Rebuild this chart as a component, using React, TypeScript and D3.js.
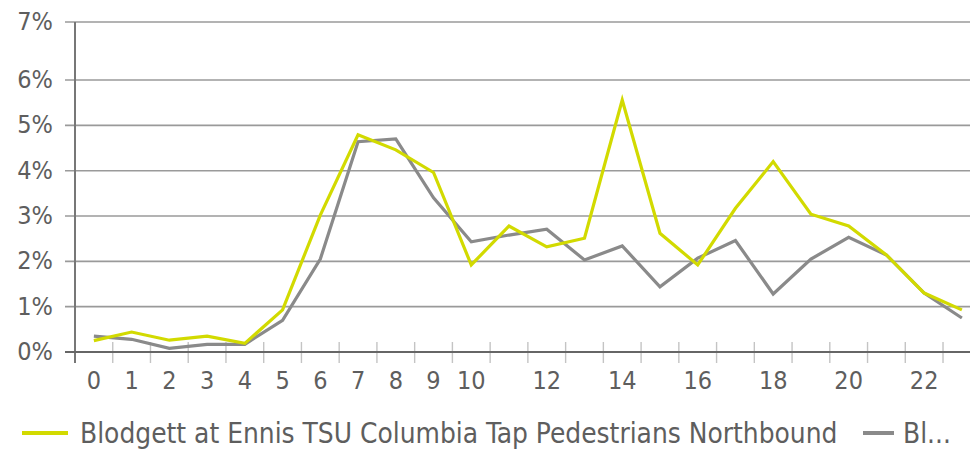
import React, { useEffect, useRef } from 'react';
import * as d3 from 'd3';

const hours = d3.range(0, 24);
const hourLabels = ['0', '1', '2', '3', '4', '5', '6', '7', '8', '9', '10', '', '12', '', '14', '', '16', '', '18', '', '20', '', '22', ''];
const northbound = [0.25, 0.44, 0.26, 0.35, 0.19, 0.93, 3.02, 4.79, 4.46, 3.96, 1.92, 2.78, 2.32, 2.51, 5.56, 2.62, 1.92, 3.17, 4.2, 3.04, 2.78, 2.14, 1.3, 0.93];
const southbound = [0.35, 0.28, 0.08, 0.17, 0.17, 0.7, 2.05, 4.64, 4.7, 3.4, 2.43, 2.58, 2.71, 2.03, 2.34, 1.44, 2.07, 2.46, 1.28, 2.05, 2.53, 2.14, 1.3, 0.75];
const yTicks = [0, 1, 2, 3, 4, 5, 6];
const yMax = 7.28;
const seriesNames = ['Blodgett at Ennis TSU Columbia Tap Pedestrians Northbound', 'Bl...'];
const seriesColors = ['#d2da00', '#8a8a8a'];

const FONT = '"DejaVu Sans Condensed", "Liberation Sans Narrow", sans-serif';

export default function App() {
  const svgRef = useRef<SVGSVGElement>(null);

  useEffect(() => {
    const svg = d3.select(svgRef.current);
    svg.selectAll('*').remove();

    const left = 75, top = 22, bottom = 352;
    const band = 37.74;
    const x = d3.scaleBand<number>().domain(hours).range([left, left + band * hours.length]);
    const y = d3.scaleLinear().domain([0, yMax]).range([bottom, top]);
    const cx = (i: number) => (x(i) as number) + x.bandwidth() / 2;

    // gridlines + y labels
    const gridVals = [...yTicks, yMax];
    svg.append('g').selectAll('line').data(gridVals).join('line')
      .attr('x1', 65).attr('x2', 970)
      .attr('y1', d => y(d)).attr('y2', d => y(d))
      .attr('stroke', '#9a9a9a').attr('stroke-width', 1.6);

    svg.append('g').selectAll('text').data(gridVals).join('text')
      .attr('x', 53).attr('y', d => y(d) + 8)
      .attr('text-anchor', 'end')
      .style('font-family', FONT).style('font-size', '25px').style('fill', '#5e5e5e')
      .text(d => `${Math.round(d)}%`);

    // x ticks on band edges
    svg.append('g').selectAll('line').data(d3.range(0, hours.length + 1)).join('line')
      .attr('x1', i => left + i * band).attr('x2', i => left + i * band)
      .attr('y1', 342).attr('y2', 363)
      .attr('stroke', '#c4c4c4').attr('stroke-width', 1.4);

    // axis lines
    svg.append('line').attr('x1', left).attr('x2', left).attr('y1', top).attr('y2', 363)
      .attr('stroke', '#777').attr('stroke-width', 2);
    svg.append('line').attr('x1', 65).attr('x2', 970).attr('y1', bottom).attr('y2', bottom)
      .attr('stroke', '#666').attr('stroke-width', 2);

    svg.append('g').selectAll('text').data(hours).join('text')
      .attr('x', d => cx(d)).attr('y', 389)
      .attr('text-anchor', 'middle')
      .style('font-family', FONT).style('font-size', '25px').style('fill', '#5e5e5e')
      .text(d => hourLabels[d]);

    // series, gray first so yellow sits on top
    const line = d3.line<number>().x((_, i) => cx(i)).y(d => y(d));
    [southbound, northbound].forEach((vals, k) => {
      svg.append('path').datum(vals)
        .attr('d', line)
        .attr('fill', 'none')
        .attr('stroke', k === 0 ? seriesColors[1] : seriesColors[0])
        .attr('stroke-width', 3.2)
        .attr('stroke-linejoin', 'miter');
    });

    // legend
    const legend = [
      { name: seriesNames[0], color: seriesColors[0], x1: 22, x2: 68, tx: 80 },
      { name: seriesNames[1], color: seriesColors[1], x1: 863, x2: 894, tx: 903 },
    ];
    legend.forEach(l => {
      svg.append('line').attr('x1', l.x1).attr('x2', l.x2).attr('y1', 433).attr('y2', 433)
        .attr('stroke', l.color).attr('stroke-width', 4);
      svg.append('text').attr('x', l.tx).attr('y', 443)
        .style('font-family', FONT).style('font-size', '27.8px').style('fill', '#5e5e5e')
        .text(l.name);
    });
  }, []);

  return (
    <div style={{ position: 'absolute', left: 0, top: 0, width: 970, height: 450, background: '#fff' }}>
      <svg ref={svgRef} width={970} height={450} style={{ display: 'block' }}></svg>
    </div>
  );
}
